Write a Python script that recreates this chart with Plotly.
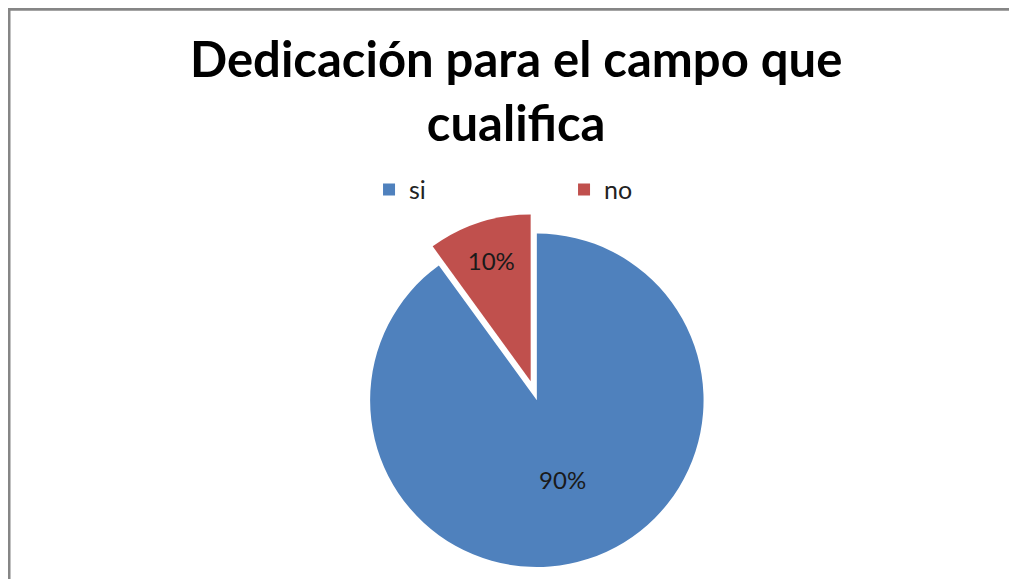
import plotly.graph_objects as go

# data
labels = ["si", "no"]
values = [90, 10]
colors = ["#4F81BD", "#C0504D"]
title_text = "Dedicación para el campo que<br>cualifica"

fig = go.Figure()

fig.add_trace(go.Pie(
    labels=labels,
    values=values,
    marker=dict(colors=colors, line=dict(width=0)),
    sort=False,
    direction="clockwise",
    rotation=0,
    pull=[0, 0.12],
    textinfo="percent",
    textposition="inside",
    insidetextorientation="horizontal",
    textfont=dict(family="Lato", size=24, color="#1a1a1a"),
    domain=dict(x=[0.04, 1], y=[0.0, 0.645]),
    showlegend=True,
))

fig.update_layout(
    width=1017,
    height=579,
    margin=dict(l=0, r=0, t=0, b=0),
    paper_bgcolor="white",
    plot_bgcolor="white",
    annotations=[
        dict(text=title_text, xref="paper", yref="paper",
             x=0.4995, y=0.858, xanchor="center", yanchor="middle",
             showarrow=False,
             font=dict(family="Lato", size=49, color="black", weight="bold")),
    ],
    legend=dict(
        orientation="h",
        x=0.355, xanchor="left",
        y=0.686, yanchor="middle",
        font=dict(family="Lato", size=25, color="#222"),
        itemwidth=30,
        entrywidth=150,
    ),
    shapes=[
        dict(type="line", xref="paper", yref="paper",
             x0=0.001, x1=0.001, y0=0, y1=1,
             line=dict(color="#868686", width=3)),
        dict(type="line", xref="paper", yref="paper",
             x0=0, x1=1, y0=0.998, y1=0.998,
             line=dict(color="#868686", width=3)),
    ],
)

fig.write_html("out.html")
